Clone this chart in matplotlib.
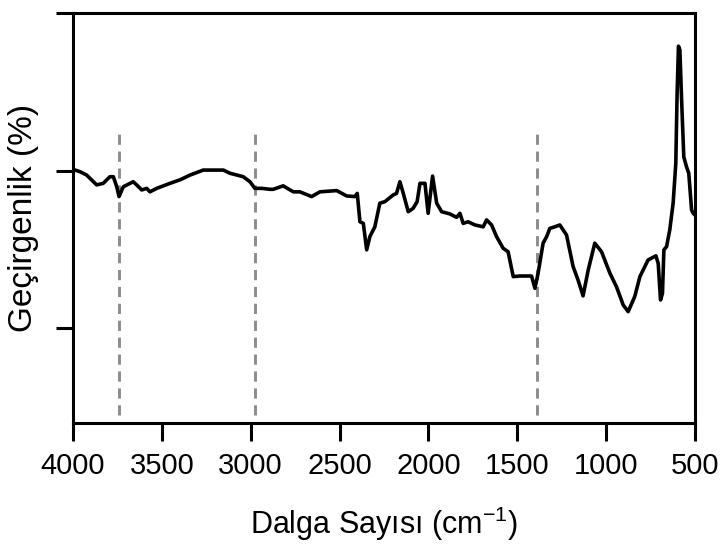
import numpy as np
import matplotlib.pyplot as plt

plt.rcParams['font.family'] = ['Liberation Sans', 'DejaVu Sans']
plt.rcParams['mathtext.default'] = 'regular'

# FTIR spektrumu: dalga sayısı (cm-1) ve geçirgenlik (keyfi birim)
wavenumber = [4000, 3961, 3923, 3867, 3830, 3792, 3773, 3754, 3741, 3717,
              3679, 3661, 3642, 3613, 3585, 3567, 3529, 3454, 3398, 3342,
              3267, 3154, 3117, 3042, 3004, 2976, 2938, 2891, 2873, 2817,
              2760, 2723, 2657, 2610, 2516, 2460, 2413, 2400, 2385, 2366,
              2347, 2329, 2301, 2273, 2244, 2198, 2179, 2160, 2141, 2113,
              2085, 2063, 2047, 2019, 2001, 1976, 1953, 1925, 1879, 1841,
              1822, 1804, 1776, 1738, 1691, 1672, 1644, 1616, 1579, 1551,
              1522, 1485, 1419, 1400, 1382, 1354, 1334, 1316, 1288, 1260,
              1222, 1185, 1157, 1129, 1100, 1063, 1025, 978, 941, 903,
              875, 838, 809, 763, 719, 706, 693, 682, 674, 659,
              641, 622, 607, 600, 592, 584, 575, 562, 547, 534,
              518, 509, 500]
transmittance = [50.4, 49.7, 48.6, 45.5, 46.0, 48.1, 48.1, 44.9, 41.8, 44.9,
                 46.0, 46.5, 45.5, 43.9, 44.4, 43.3, 44.4, 46.0, 47.1, 48.6,
                 50.2, 50.2, 49.2, 48.1, 46.5, 44.4, 44.4, 44.1, 44.1, 45.2,
                 43.3, 43.3, 41.8, 43.3, 43.7, 42.0, 41.8, 42.8, 33.8, 33.3,
                 24.9, 29.1, 32.2, 39.7, 40.2, 42.3, 42.8, 46.5, 42.8, 37.0,
                 38.1, 40.2, 46.0, 46.0, 36.5, 48.3, 39.7, 37.0, 36.3, 35.2,
                 36.5, 33.3, 33.8, 32.8, 32.2, 34.4, 32.8, 29.1, 25.4, 24.3,
                 16.4, 16.6, 16.6, 12.7, 17.5, 27.0, 29.1, 31.7, 32.2, 32.8,
                 29.6, 19.6, 15.3, 10.3, 18.5, 27.0, 24.3, 17.5, 13.2, 7.4,
                 5.3, 10.1, 16.4, 21.7, 23.0, 20.6, 9.0, 11.1, 24.9, 25.9,
                 31.2, 39.7, 52.3, 73.5, 89.5, 88.3, 73.5, 54.4, 51.3, 49.2,
                 37.5, 36.5, 36.0]

# Kesikli çizgilerle işaretlenen bantlar
band_marks = [3741, 2976, 1389]

x_ticks = [4000, 3500, 3000, 2500, 2000, 1500, 1000, 500]
y_ticks = [0, 50, 100]

fig = plt.figure(figsize=(7.23, 5.45), dpi=100)
ax = fig.add_axes([0.101, 0.224, 0.860, 0.752])

ax.vlines(band_marks, -27.5, 63, colors='#8c8c8c', linewidth=2.1,
          linestyles=(0, (3.5, 2.3)))
ax.plot(wavenumber, transmittance, color='black', linewidth=2.6)

ax.set_xlim(4000, 500)
ax.set_ylim(-30, 100)
ax.set_xticks(x_ticks)
ax.set_yticks(y_ticks)
ax.set_yticklabels([])

for s in ax.spines.values():
    s.set_linewidth(2.2)
ax.tick_params(axis='x', direction='out', length=13, width=2.2,
               labelsize=21, pad=8)
ax.tick_params(axis='y', direction='out', length=12, width=2.2)

ax.set_xlabel(r'Dalga Sayısı (cm$^{-1}$)', fontsize=22, labelpad=18)
ax.set_ylabel('Geçirgenlik (%)', fontsize=24, labelpad=9)

fig.savefig('out.png', dpi=100)
